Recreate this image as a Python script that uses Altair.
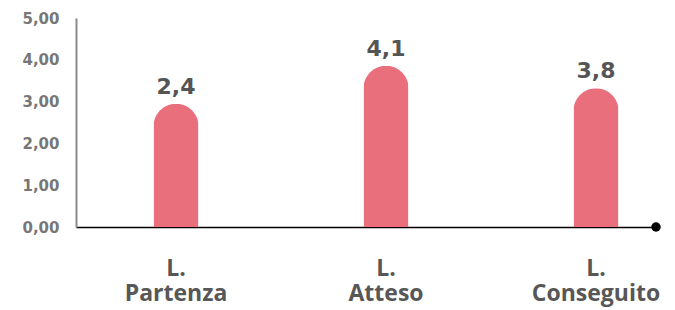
import altair as alt
import pandas as pd

categories = ["L.\nPartenza", "L.\nAtteso", "L.\nConseguito"]
bar_heights = [2.95, 3.86, 3.32]
value_labels = ["2,4", "4,1", "3,8"]
y_ticks = [0, 1, 2, 3, 4, 5]

df = pd.DataFrame({"cat": categories, "h": bar_heights, "lbl": value_labels})

W, H = 580, 209

x = alt.X(
    "cat:N",
    sort=categories,
    scale=alt.Scale(paddingInner=0.5, paddingOuter=0.131, align=0.864),
    axis=alt.Axis(
        title=None,
        labelAngle=0,
        labelExpr="split(datum.value, '\\n')",
        labelFont="Open Sans",
        labelFontWeight="bold",
        labelFontSize=23,
        labelColor="#575757",
        labelLineHeight=25,
        labelPadding=30,
        ticks=False,
        domainColor="#000000",
        domainWidth=1.5,
    ),
)
y = alt.Y(
    "h:Q",
    scale=alt.Scale(domain=[0, 5], nice=False),
    axis=alt.Axis(
        title=None,
        values=y_ticks,
        labelExpr="replace(format(datum.value, '.2f'), '.', ',')",
        labelFont="DejaVu Sans",
        labelFontWeight="bold",
        labelFontSize=15,
        labelColor="#777777",
        labelPadding=17,
        ticks=False,
        grid=False,
        domainColor="#8a8a8a",
        domainWidth=2,
    ),
)

base = alt.Chart(df)
bars = base.mark_bar(
    size=45, color="#E96F7D", cornerRadiusTopLeft=22.5, cornerRadiusTopRight=22.5
).encode(x=x, y=y)
text = base.mark_text(
    baseline="bottom", dy=-5, font="DejaVu Sans", fontWeight="bold",
    fontSize=22, color="#555555"
).encode(x=x, y=y, text="lbl:N")
dot = alt.Chart(pd.DataFrame({"a": [0]})).mark_point(
    filled=True, color="#000000", size=90, opacity=1
).encode(x=alt.value(W), y=alt.value(H))

chart = alt.layer(bars, text, dot).properties(
    width=W, height=H,
    background="#ffffff",
    autosize=alt.AutoSizeParams(type="none"),
    padding={"left": 68, "top": 10, "right": 10, "bottom": 83},
).configure_view(strokeWidth=0, stroke="transparent")

chart.save("out.html", embed_options={"renderer": "svg", "actions": False})
